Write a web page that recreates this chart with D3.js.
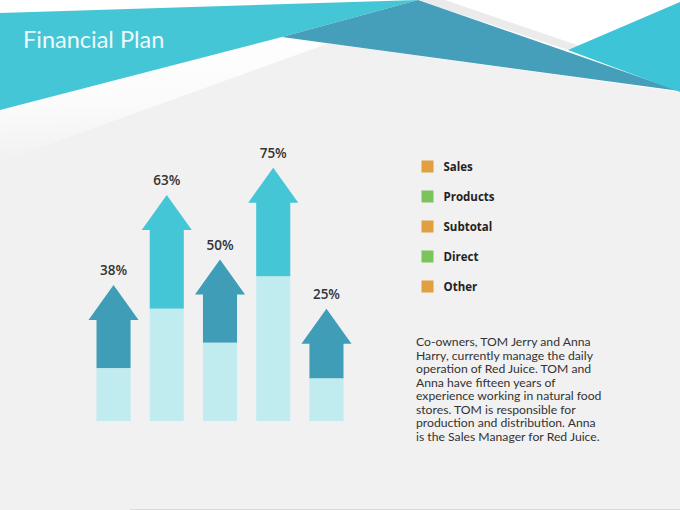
<!DOCTYPE html>
<html>
<head>
<meta charset="utf-8">
<script src="https://cdn.jsdelivr.net/npm/d3@7"></script>
<style>
  body { margin: 0; background: #f1f1f1; }
  svg { display: block; }
</style>
</head>
<body>
<div id="myChart"></div>
<script>
// categories (legend entries, one per arrow)
const categories = ["Sales", "Products", "Subtotal", "Direct", "Other"];
// percentage labels shown above each arrow
const values = [38, 63, 50, 75, 25];
// where each arrow tip reaches (same % units)
const arrowTops = [40, 66.5, 47.5, 74.5, 33];
// height of the pale base part of each arrow
const baseLevels = [15.5, 33, 23, 42.5, 12.5];
// legend swatch colours
const legendColors = ["#e0a040", "#7cc35b", "#e0a040", "#7cc35b", "#e0a040"];

const description = [
  "Co-owners, TOM Jerry and Anna",
  "Harry, currently manage the daily",
  "operation of Red Juice. TOM and",
  "Anna have fifteen years of",
  "experience working in natural food",
  "stores. TOM is responsible for",
  "production and distribution. Anna",
  "is the Sales Manager for Red Juice."
];

const W = 680, H = 510;

const svg = d3.select("#myChart")
  .append("svg")
    .attr("width", W)
    .attr("height", H);

const defs = svg.append("defs");
const streak = defs.append("linearGradient")
    .attr("id", "streak")
    .attr("x1", "0").attr("y1", "0")
    .attr("x2", "0.12").attr("y2", "1");
streak.append("stop").attr("offset", "0%").attr("stop-color", "#ffffff");
streak.append("stop").attr("offset", "55%").attr("stop-color", "#fbfbfb");
streak.append("stop").attr("offset", "100%").attr("stop-color", "#f1f1f1");

// background
svg.append("rect")
    .attr("width", W).attr("height", H)
    .attr("fill", "#f1f1f1");

// white top area + soft white streak under the band
svg.append("polygon")
    .attr("points", "0,0 680,0 680,92 282,37 0,110")
    .attr("fill", "#ffffff");
svg.append("polygon")
    .attr("points", "0,108 282,37 335,41 0,162")
    .attr("fill", "url(#streak)");

// faint shadow along the dark triangle top edge
svg.append("polygon")
    .attr("points", "418,0 445,0 580,46 568,50")
    .attr("fill", "#ebebeb");

// header shapes
svg.append("polygon")
    .attr("points", "0,13 418,0 282,37 0,110")
    .attr("fill", "#45c6d6");
svg.append("polygon")
    .attr("points", "282,37 418,0 680,91")
    .attr("fill", "#469fba");
svg.append("polygon")
    .attr("points", "568,50 680,2 680,92")
    .attr("fill", "#3dc5d7");

svg.append("text")
    .attr("x", 23)
    .attr("y", 48)
    .attr("font-family", "Lato, 'Open Sans', sans-serif")
    .attr("font-weight", 400)
    .attr("font-size", "23.5px")
    .attr("fill", "#eefafb")
    .text("Financial Plan");

// bottom hairline frame
svg.append("line")
    .attr("x1", 130).attr("x2", W).attr("y1", H - 0.5).attr("y2", H - 0.5)
    .attr("stroke", "#d8d8d8");

// scales
const x = d3.scaleBand()
    .domain(categories)
    .range([96.5, 343.5])
    .paddingInner(0.36)
    .paddingOuter(0);

const y = d3.scaleLinear()
    .domain([0, 100])
    .range([421, 81]);

const headH = 35, headOver = 8;

const arrows = svg.append("g")
  .selectAll("g")
  .data(categories.map((c, i) => ({
      cat: c, value: values[i], top: arrowTops[i], base: baseLevels[i], i: i
  })))
  .join("g");

// upper coloured arrow (shaft + head)
arrows.append("path")
    .attr("fill", d => d.i % 2 ? "#45c6d6" : "#3f9db8")
    .attr("d", d => {
      const x0 = x(d.cat), x1 = x0 + x.bandwidth(), cx = x0 + x.bandwidth() / 2;
      const tip = y(d.top), neck = tip + headH, bot = y(d.base);
      return `M${x0},${bot} L${x0},${neck} L${x0 - headOver},${neck} L${cx},${tip} ` +
             `L${x1 + headOver},${neck} L${x1},${neck} L${x1},${bot} Z`;
    });

// pale base
arrows.append("rect")
    .attr("x", d => x(d.cat))
    .attr("width", x.bandwidth())
    .attr("y", d => y(d.base))
    .attr("height", d => y(0) - y(d.base))
    .attr("fill", "#c0ecf0");

arrows.append("text")
    .attr("x", d => x(d.cat) + x.bandwidth() / 2)
    .attr("y", d => y(d.top) - 10)
    .attr("text-anchor", "middle")
    .attr("font-family", "'Open Sans', sans-serif")
    .attr("font-weight", 600)
    .attr("font-size", "13.5px")
    .attr("fill", "#333333")
    .text(d => d.value + "%");

// legend
const legend = svg.append("g")
  .selectAll("g")
  .data(categories)
  .join("g")
    .attr("transform", (d, i) => `translate(421.5, ${166.5 + i * 30})`);

legend.append("rect")
    .attr("x", 0).attr("y", -6)
    .attr("width", 12).attr("height", 12)
    .attr("fill", (d, i) => legendColors[i]);

legend.append("text")
    .attr("x", 22)
    .attr("y", 4.5)
    .attr("font-family", "'Open Sans', sans-serif")
    .attr("font-weight", 700)
    .attr("font-size", "11.5px")
    .attr("fill", "#222222")
    .text(d => d);

// description paragraph
svg.append("text")
    .attr("font-family", "Lato, 'Open Sans', sans-serif")
    .attr("font-size", "12.2px")
    .attr("fill", "#333333")
  .selectAll("tspan")
  .data(description)
  .join("tspan")
    .attr("x", 416)
    .attr("y", (d, i) => 346 + i * 13.5)
    .text(d => d);
</script>
</body>
</html>
